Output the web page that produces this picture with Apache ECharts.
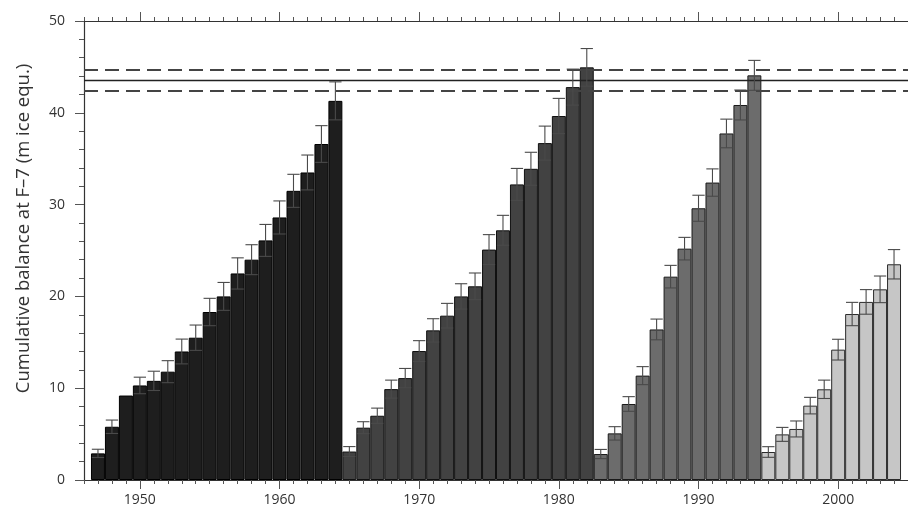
<!DOCTYPE html>
<html>
<head>
<meta charset="utf-8">
<script src="https://cdn.jsdelivr.net/npm/echarts@6/dist/echarts.min.js"></script>
<style>
html,body{margin:0;padding:0;background:#fff;}
#chart{width:908px;height:509px;}
</style>
</head>
<body>
<div id="chart"></div>
<script>
// ---- data ----
const axisMinYear = 1946;
const axisMaxYear = 2005;
const xTickLabels = ['1950','1960','1970','1980','1990','2000'];
const yTickLabels = [0,10,20,30,40,50];

const period1Years = [1947,1948,1949,1950,1951,1952,1953,1954,1955,1956,1957,1958,1959,1960,1961,1962,1963,1964];
const period1Balance = [2.9,5.8,9.2,10.3,10.8,11.8,14.0,15.5,18.3,20.0,22.5,24.0,26.1,28.6,31.5,33.5,36.6,41.3];
const period1Error = [0.45,0.73,0,0.9,1.05,1.2,1.35,1.38,1.49,1.52,1.7,1.63,1.74,1.8,1.8,1.9,2.0,2.07];

const period2Years = [1965,1966,1967,1968,1969,1970,1971,1972,1973,1974,1975,1976,1977,1978,1979,1980,1981,1982];
const period2Balance = [3.1,5.7,7.0,9.9,11.1,14.05,16.3,17.9,20.0,21.1,25.1,27.2,32.2,33.9,36.7,39.65,42.8,44.95];
const period2Error = [0.54,0.65,0.83,0.98,1.05,1.13,1.27,1.34,1.38,1.45,1.63,1.63,1.74,1.8,1.85,1.92,1.96,2.05];

const period3Years = [1983,1984,1985,1986,1987,1988,1989,1990,1991,1992,1993,1994];
const period3Balance = [2.83,5.08,8.28,11.37,16.4,22.15,25.2,29.6,32.4,37.75,40.85,44.08];
const period3Error = [0.5,0.73,0.8,0.98,1.13,1.23,1.23,1.42,1.49,1.56,1.63,1.63];

const period4Years = [1995,1996,1997,1998,1999,2000,2001,2002,2003,2004];
const period4Balance = [3.05,4.97,5.56,8.1,9.88,14.2,18.08,19.4,20.77,23.5];
const period4Error = [0.58,0.76,0.87,0.9,1.0,1.13,1.27,1.34,1.45,1.6];

const referenceMean = 43.55;
const referenceLow = 42.4;
const referenceHigh = 44.7;

// ---- build ----
const axisYears = [];
for (let y = axisMinYear; y <= axisMaxYear; y++) axisYears.push(String(y));

const periods = [
  {years: period1Years, bal: period1Balance, err: period1Error, color: '#1e1e1e', border: '#000'},
  {years: period2Years, bal: period2Balance, err: period2Error, color: '#424242', border: '#111'},
  {years: period3Years, bal: period3Balance, err: period3Error, color: '#6c6c6c', border: '#1a1a1a'},
  {years: period4Years, bal: period4Balance, err: period4Error, color: '#c6c6c6', border: '#2a2a2a'}
];

const barData = axisYears.map(() => null);
const errData = [];
periods.forEach(p => {
  p.years.forEach((yr, i) => {
    const idx = axisYears.indexOf(String(yr));
    barData[idx] = {value: p.bal[i], itemStyle: {color: p.color, borderColor: p.border, borderWidth: 1}};
    if (p.err[i] > 0) errData.push([idx, p.bal[i] - p.err[i], p.bal[i] + p.err[i]]);
  });
});

const isDecade = (i, v) => Number(v) % 10 === 0;
const fontFam = '"Open Sans", "DejaVu Sans", sans-serif';

function xAx(position, major, showLine, showLabel) {
  return {
    type: 'category', data: axisYears, boundaryGap: false, position: position, gridIndex: 0,
    axisLine: {show: showLine, lineStyle: {color: '#333', width: 1.2}},
    axisTick: {show: true, interval: major ? isDecade : 0, length: major ? 9 : 4, lineStyle: {color: '#555', width: 1}},
    axisLabel: {show: showLabel, interval: isDecade, color: '#333', fontSize: 14, fontFamily: fontFam, margin: 13,
      formatter: v => xTickLabels.indexOf(String(v)) >= 0 ? v : ''},
    splitLine: {show: false}
  };
}

const chart = echarts.init(document.getElementById('chart'));
chart.setOption({
  animation: false,
  backgroundColor: '#fff',
  grid: {left: 84, top: 21, width: 827, height: 459, containLabel: false},
  xAxis: [
    xAx('bottom', false, true, true),
    xAx('bottom', true, false, false),
    xAx('top', false, true, false),
    xAx('top', true, false, false)
  ],
  yAxis: {
    type: 'value', min: 0, max: 50, interval: 10,
    name: 'Cumulative balance at F–7 (m ice equ.)',
    nameLocation: 'middle', nameGap: 51,
    nameTextStyle: {fontSize: 18.5, color: '#333', fontFamily: fontFam, padding: [0, 0, 0, 44]},
    axisLine: {show: true, lineStyle: {color: '#333', width: 1.2}},
    axisTick: {show: true, length: 9, lineStyle: {color: '#555'}},
    minorTick: {show: true, splitNumber: 5, length: 5, lineStyle: {color: '#555'}},
    axisLabel: {color: '#333', fontSize: 14, fontFamily: fontFam, margin: 19,
      formatter: v => yTickLabels.indexOf(v) >= 0 ? String(v) : ''},
    splitLine: {show: false}
  },
  series: [
    {
      type: 'bar', xAxisIndex: 0, data: barData, barWidth: '100%', barGap: '0%', barCategoryGap: '0%',
      markLine: {
        silent: true, symbol: 'none', label: {show: false},
        data: [
          {yAxis: referenceMean, lineStyle: {type: 'solid', color: '#222', width: 1.3}},
          {yAxis: referenceHigh, lineStyle: {type: [14, 7], color: '#444', width: 2}},
          {yAxis: referenceLow, lineStyle: {type: [14, 7], color: '#444', width: 2}}
        ]
      }
    },
    {
      type: 'custom', xAxisIndex: 0, data: errData, z: 5,
      renderItem: function (params, api) {
        const x = api.value(0);
        const lo = api.coord([x, api.value(1)]);
        const hi = api.coord([x, api.value(2)]);
        const half = api.size([1, 0])[0] * 0.44;
        const style = {stroke: '#4a4a4a', lineWidth: 1.1};
        return {type: 'group', children: [
          {type: 'line', shape: {x1: hi[0], y1: hi[1], x2: lo[0], y2: lo[1]}, style: style},
          {type: 'line', shape: {x1: hi[0] - half, y1: hi[1], x2: hi[0] + half, y2: hi[1]}, style: style},
          {type: 'line', shape: {x1: lo[0] - half, y1: lo[1], x2: lo[0] + half, y2: lo[1]}, style: style}
        ]};
      }
    }
  ]
});
</script>
</body>
</html>
